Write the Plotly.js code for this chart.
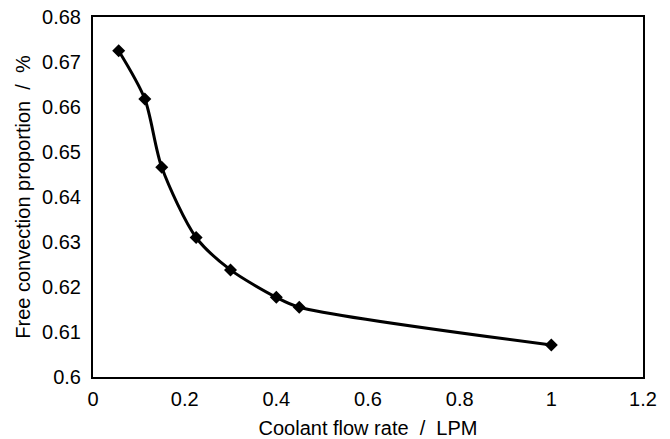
<!DOCTYPE html>
<html>
<head>
<meta charset="utf-8">
<script src="https://cdn.plot.ly/plotly-3.0.1.min.js"></script>
<style>html,body{margin:0;padding:0;background:#fff;}#chart{width:670px;height:439px;}</style>
</head>
<body>
<div id="chart"></div>
<script>
const flowRate = [0.056, 0.113, 0.15, 0.225, 0.3, 0.4, 0.45, 1.0];
const freeConvection = [0.6725, 0.6618, 0.6466, 0.6310, 0.6238, 0.6177, 0.6155, 0.6071];
const xTicks = [0, 0.2, 0.4, 0.6, 0.8, 1, 1.2];
const yTicks = [0.6, 0.61, 0.62, 0.63, 0.64, 0.65, 0.66, 0.67, 0.68];

const fontFam = 'Liberation Sans, Arial, sans-serif';
Plotly.newPlot('chart', [{
  x: flowRate, y: freeConvection,
  type: 'scatter', mode: 'lines+markers',
  line: {color: '#000', width: 3, shape: 'spline', smoothing: 0.8},
  marker: {symbol: 'diamond', size: 10, color: '#000'},
  showlegend: false
}], {
  width: 670, height: 439,
  margin: {l: 93, r: 27, t: 17, b: 62},
  paper_bgcolor: '#fff', plot_bgcolor: '#fff',
  font: {family: fontFam, size: 20, color: '#000'},
  xaxis: {
    range: [0, 1.2], tickvals: xTicks, ticktext: xTicks.map(String),
    showgrid: false, zeroline: false, showline: true, mirror: true,
    linecolor: '#000', linewidth: 2, ticks: '', ticklabelstandoff: 3,
    title: {text: 'Coolant flow rate\u00a0\u00a0/\u00a0\u00a0LPM', font: {size: 20}, standoff: 12}
  },
  yaxis: {
    range: [0.6, 0.68], tickvals: yTicks, ticktext: yTicks.map(String),
    showgrid: false, zeroline: false, showline: true, mirror: true,
    linecolor: '#000', linewidth: 2, ticks: '', ticklabelstandoff: 6,
    title: {text: 'Free convection proportion\u00a0\u00a0/\u00a0\u00a0%', font: {size: 20}, standoff: 6}
  }
}, {displayModeBar: false, staticPlot: true});
</script>
</body>
</html>
